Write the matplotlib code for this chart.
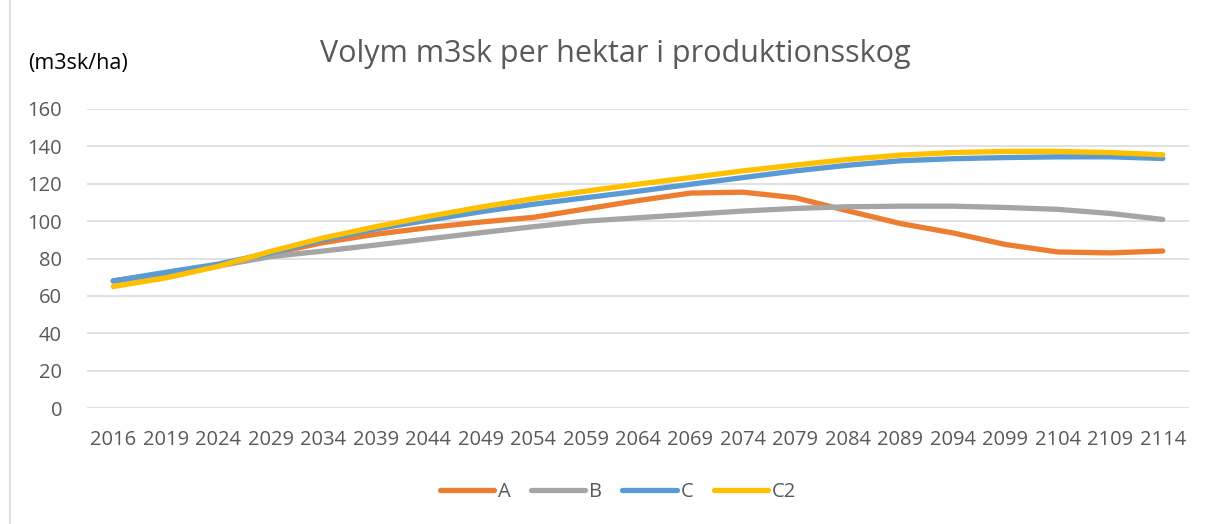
import matplotlib
matplotlib.use("Agg")
import matplotlib.pyplot as plt
from matplotlib.lines import Line2D

years = [2016, 2019, 2024, 2029, 2034, 2039, 2044, 2049, 2054, 2059, 2064,
         2069, 2074, 2079, 2084, 2089, 2094, 2099, 2104, 2109, 2114]
series_A = [68, 72, 76, 82.5, 88.5, 93, 96.5, 99.5, 102, 106.5, 111,
            115, 115.5, 112.5, 105.5, 98.7, 93.7, 87.5, 83.5, 83, 84]
series_B = [68, 72, 76, 81, 84, 87.2, 90.5, 93.8, 97, 100, 101.8,
            103.6, 105.4, 106.8, 107.7, 108, 108, 107.3, 106.3, 104.1, 100.9]
series_C = [68, 72.6, 77, 83, 90, 95.8, 100.5, 105, 109, 112.5, 116,
            119.7, 123.3, 126.9, 129.9, 132.3, 133.4, 134, 134.4, 134.4, 133.5]
series_C2 = [65, 69.6, 75.8, 83.8, 91, 97, 102.5, 107.5, 112, 116, 119.8,
             123.3, 126.9, 130, 133, 135.3, 136.7, 137.3, 137.3, 136.7, 135.5]
names = ["A", "B", "C", "C2"]
colors = ["#ED7D31", "#A5A5A5", "#5B9BD5", "#FFC000"]
yticks = [0, 20, 40, 60, 80, 100, 120, 140, 160]

W, H = 1206, 524
fig = plt.figure(figsize=(W / 100, H / 100), dpi=100)
plt.rcParams['font.family'] = ['Open Sans', 'DejaVu Sans']
txt = "#595959"
grid = "#D9D9D9"

ax = fig.add_axes([87 / W, (H - 408) / H, (1189 - 87) / W, (408 - 109) / H])
x = list(range(len(years)))
for vals, name, col in zip([series_A, series_B, series_C, series_C2], names, colors):
    ax.plot(x, vals, color=col, lw=3.8, solid_capstyle='round',
            solid_joinstyle='round', label=name)

ax.set_xlim(-0.5, len(years) - 0.5)
ax.set_ylim(0, 160)
ax.set_yticks(yticks)
ax.set_xticks(x)
ax.set_xticklabels([str(y) for y in years])
for s in ax.spines.values():
    s.set_visible(False)
ax.yaxis.grid(True, color=grid, lw=1.1)
ax.set_axisbelow(True)
ax.tick_params(axis='both', length=0, labelsize=14.5, labelcolor=txt)
ax.tick_params(axis='x', pad=16)
ax.tick_params(axis='y', pad=18)

fig.text(615 / W, (H - 62) / H, "Volym m3sk per hektar i produktionsskog",
         ha='center', va='baseline', fontsize=22, color=txt)
fig.text(28 / W, (H - 69) / H, "(m3sk/ha)", ha='left', va='baseline',
         fontsize=15.5, color="#000000")

handles = [Line2D([], [], color=c, lw=3.8, solid_capstyle='round') for c in colors]
fig.legend(handles, names, loc='center', bbox_to_anchor=(618 / W, (H - 492) / H),
           ncol=4, frameon=False, fontsize=14.5, labelcolor=txt,
           handlelength=2.7, handletextpad=0.2, columnspacing=1.0)

fig.add_artist(Line2D([10 / W, 10 / W], [0, 1], color=grid, lw=1.2,
                      transform=fig.transFigure))

fig.savefig("out.png", dpi=100)
